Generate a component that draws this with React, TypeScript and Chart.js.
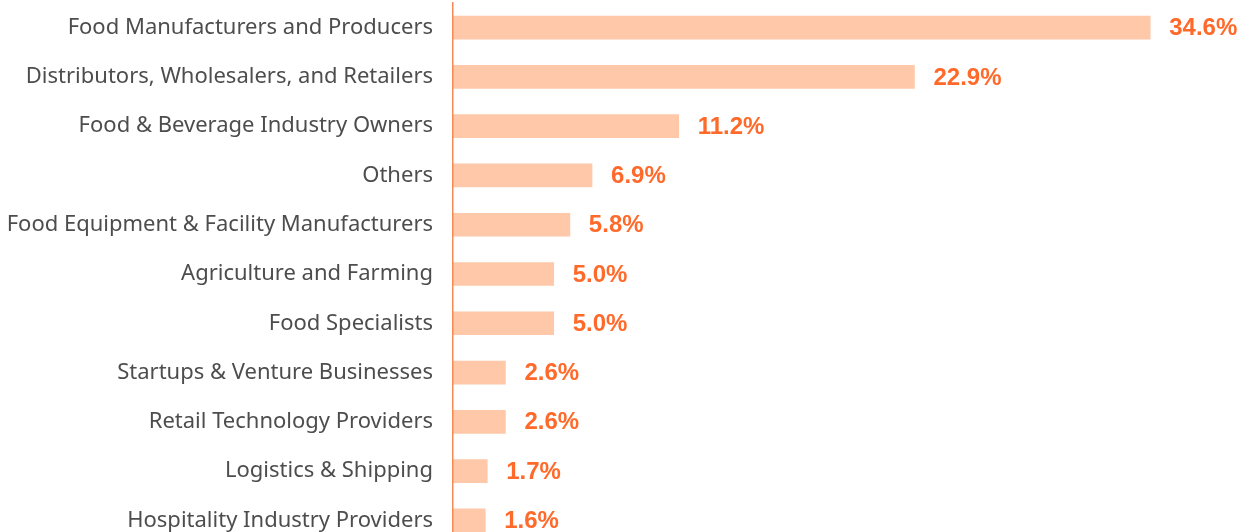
import React, { useEffect, useRef } from "react";
import { Chart, registerables } from "chart.js";

Chart.register(...registerables);

const categories: string[] = [
  "Food Manufacturers and Producers",
  "Distributors, Wholesalers, and Retailers",
  "Food & Beverage Industry Owners",
  "Others",
  "Food Equipment & Facility Manufacturers",
  "Agriculture and Farming",
  "Food Specialists",
  "Startups & Venture Businesses",
  "Retail Technology Providers",
  "Logistics & Shipping",
  "Hospitality Industry Providers",
];

const shares: number[] = [34.6, 22.9, 11.2, 6.9, 5.8, 5.0, 5.0, 2.6, 2.6, 1.7, 1.6];

const valueLabels: string[] = shares.map((v) => v.toFixed(1) + "%");

const BAR_COLOR = "#FEC8A9";
const LABEL_COLOR = "#FF6A2B";
const AXIS_COLOR = "#F58A55";
const TEXT_COLOR = "#4D4D4D";

const valueLabelPlugin = {
  id: "valueLabels",
  afterDatasetsDraw(chart: any) {
    const ctx = chart.ctx;
    const meta = chart.getDatasetMeta(0);
    ctx.save();
    ctx.fillStyle = LABEL_COLOR;
    ctx.font = "bold 24px 'Liberation Sans', Arial, sans-serif";
    ctx.textAlign = "left";
    ctx.textBaseline = "middle";
    meta.data.forEach((bar: any, i: number) => {
      ctx.fillText(valueLabels[i], bar.x + 19, bar.y + 1);
    });
    ctx.restore();
  },
};

export default function App() {
  const canvasRef = useRef<HTMLCanvasElement | null>(null);

  useEffect(() => {
    if (!canvasRef.current) return;
    const chart = new Chart(canvasRef.current, {
      type: "bar",
      data: {
        labels: categories,
        datasets: [
          {
            data: shares,
            backgroundColor: BAR_COLOR,
            borderWidth: 0,
            barThickness: 23,
          },
        ],
      },
      options: {
        indexAxis: "y",
        animation: false,
        responsive: true,
        maintainAspectRatio: false,
        layout: { padding: { top: 3, right: 0, bottom: 0, left: 0 } },
        plugins: {
          legend: { display: false },
          tooltip: { enabled: false },
        },
        scales: {
          x: {
            display: false,
            min: 0,
            max: 39.8,
          },
          y: {
            afterFit: (scale: any) => {
              scale.width = 453;
              scale.paddingTop = 0;
              scale.paddingBottom = 0;
            },
            grid: { display: false },
            border: { display: true, color: AXIS_COLOR, width: 1.5, z: 1 },
            ticks: {
              color: TEXT_COLOR,
              padding: 12,
              font: { family: "'Noto Sans', sans-serif", size: 22 },
            },
          },
        },
      },
      plugins: [valueLabelPlugin],
    });
    return () => chart.destroy();
  }, []);

  return (
    <div style={{ position: "fixed", left: 0, top: 0, width: 1255, height: 545 }}>
      <canvas ref={canvasRef} />
    </div>
  );
}
